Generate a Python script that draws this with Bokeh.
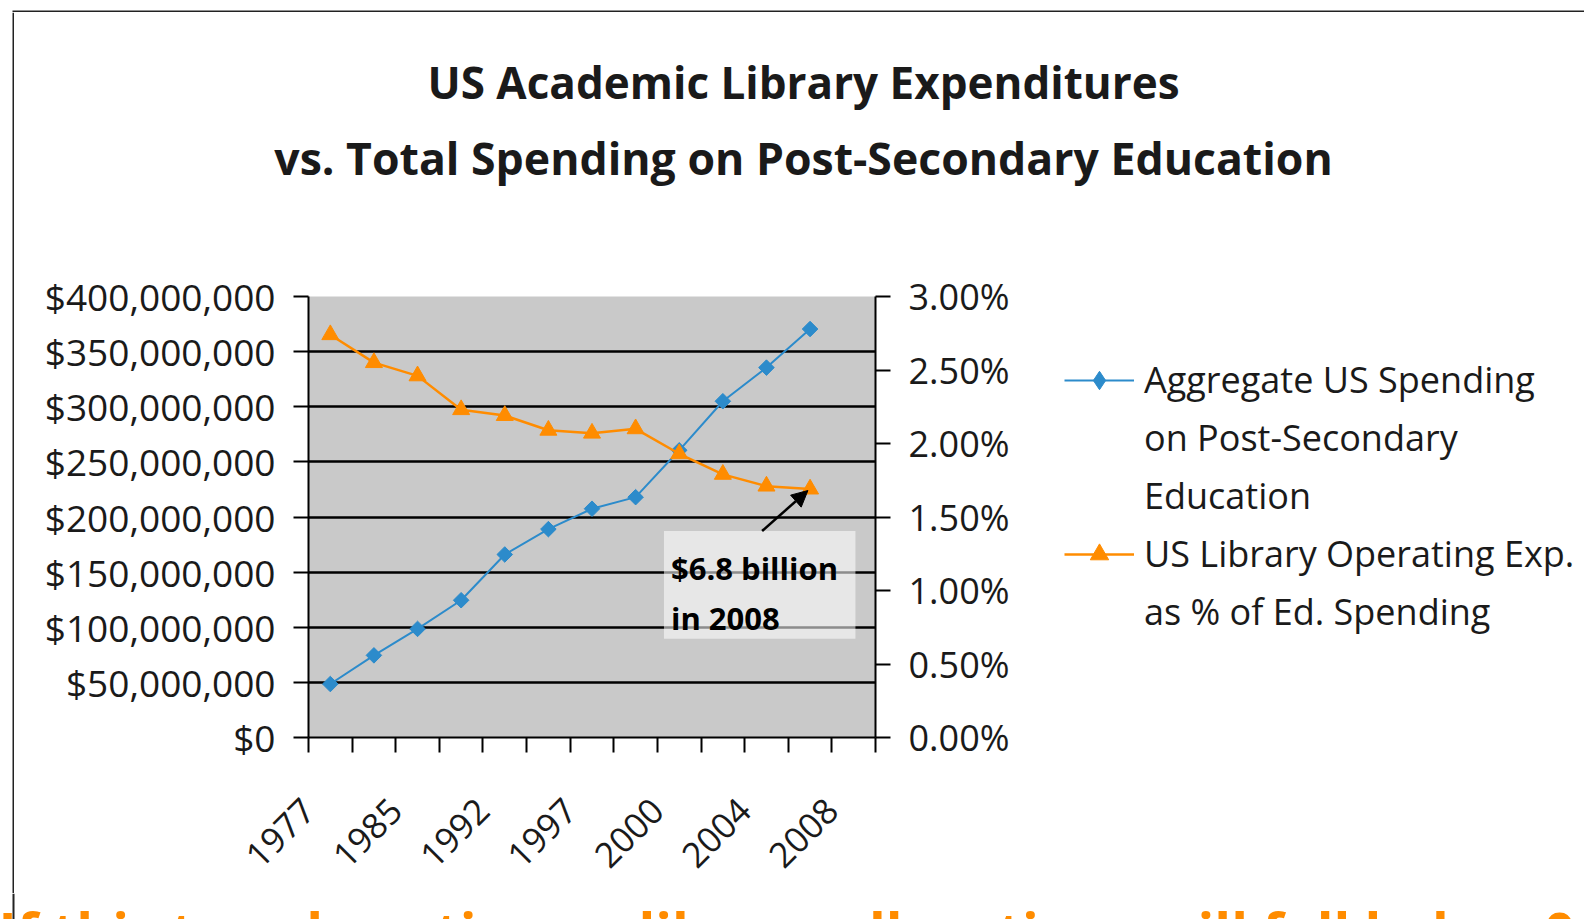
import math
from bokeh.plotting import figure
from bokeh.layouts import column, row
from bokeh.models import (Range1d, LinearAxis, FixedTicker, NumeralTickFormatter,
                          Label, Legend, LegendItem, Arrow, NormalHead, Span,
                          ColumnDataSource)
from bokeh.embed import file_html
from bokeh.resources import INLINE

# ---------------- data ----------------
title_lines = ["US Academic Library Expenditures",
               "vs. Total Spending on Post-Secondary Education"]
tick_labels = ["1977", "1985", "1992", "1997", "2000", "2004", "2008"]
n_slots = 13
point_index = list(range(12))
aggregate_spending = [48.5e6, 74.5e6, 98.5e6, 124.5e6, 166e6, 189e6,
                      207.5e6, 218e6, 260.5e6, 305e6, 335.5e6, 370.5e6]
library_pct = [2.74, 2.55, 2.46, 2.23, 2.19, 2.09,
               2.07, 2.10, 1.93, 1.79, 1.71, 1.69]
legend_blue = ["Aggregate US Spending", "on Post-Secondary", "Education"]
legend_orange = ["US Library Operating Exp.", "as % of Ed. Spending"]
annotation_lines = ["$6.8 billion", "in 2008"]
footer_text = "If this trend continues, library allocations will fall below 0"

BLUE = "#2C8BCB"
ORANGE = "#FF8C00"
GREY = "#C9C9C9"
TXT = "#1a1a1a"
BORDER = "#222222"
FONT = "Open Sans"
NAN = float("nan")


def no_align(f):
    if hasattr(f, "frame_align"):
        f.frame_align = False
    return f


def strip(w, h):
    f = figure(width=w, height=h, output_backend="svg", toolbar_location=None,
               x_range=Range1d(0, w), y_range=Range1d(0, h), min_border=0,
               outline_line_color=None, x_axis_location=None, y_axis_location=None,
               background_fill_color="white", border_fill_color="white")
    f.xgrid.visible = False
    f.ygrid.visible = False
    return no_align(f)


# ---------------- main chart ----------------
MW, MH = 1010, 667
p = figure(width=MW, height=MH, output_backend="svg", toolbar_location=None,
           x_range=Range1d(0, n_slots), y_range=Range1d(0, 400e6),
           min_border_left=294, min_border_right=MW - 861,
           min_border_top=70, min_border_bottom=156,
           background_fill_color=GREY, border_fill_color="white",
           outline_line_color=None, x_axis_location=None, y_axis_location=None)
no_align(p)
p.extra_y_ranges = {"pct": Range1d(0, 0.03)}

src = ColumnDataSource(dict(
    x=[i + 0.5 for i in point_index],
    agg=aggregate_spending,
    pct=[v / 100 for v in library_pct],
))

left_ticker = FixedTicker(ticks=[i * 50e6 for i in range(9)])
yax = LinearAxis(ticker=left_ticker, formatter=NumeralTickFormatter(format="$0,0"))
rax = LinearAxis(y_range_name="pct", ticker=FixedTicker(ticks=[i * 0.005 for i in range(7)]),
                 formatter=NumeralTickFormatter(format="0.00%"))
xax = LinearAxis(ticker=FixedTicker(ticks=[0, 2, 4, 6, 8, 10, 12],
                                    minor_ticks=[1, 3, 5, 7, 9, 11, 13]),
                 major_label_overrides={i * 2: lab for i, lab in enumerate(tick_labels)},
                 major_label_orientation=math.pi / 4)
for ax in (yax, rax, xax):
    ax.axis_line_color = "black"
    ax.axis_line_width = 2
    ax.major_tick_line_color = "black"
    ax.major_tick_line_width = 2
    ax.major_tick_out = 15
    ax.major_tick_in = 0
    ax.major_label_text_font = FONT
    ax.major_label_text_color = TXT
    ax.major_label_standoff = 18
yax.major_label_text_font_size = "37px"
rax.major_label_text_font_size = "36px"
xax.major_label_text_font_size = "35px"
yax.minor_tick_line_color = None
rax.minor_tick_line_color = None
xax.minor_tick_line_color = "black"
xax.minor_tick_line_width = 2
xax.minor_tick_out = 15
xax.minor_tick_in = 0
xax.major_label_standoff = 52
p.add_layout(yax, "left")
p.add_layout(rax, "right")
p.add_layout(xax, "below")

p.ygrid.ticker = left_ticker
p.ygrid.grid_line_color = "black"
p.ygrid.grid_line_width = 2.5
p.xgrid.visible = False

p.quad(left=[8.15], right=[12.54], bottom=[0.00672], top=[0.01405], y_range_name="pct",
       fill_color="white", fill_alpha=0.55, line_color=None)

p.line("x", "agg", source=src, line_color=BLUE, line_width=2)
p.scatter("x", "agg", source=src, marker="square", angle=math.pi / 4, size=11,
          fill_color=BLUE, line_color=BLUE)
p.line("x", "pct", source=src, y_range_name="pct", line_color=ORANGE, line_width=2.5)
p.scatter("x", "pct", source=src, y_range_name="pct", marker="triangle", size=17,
          fill_color=ORANGE, line_color=ORANGE)

p.add_layout(Arrow(end=NormalHead(size=16, fill_color="black", line_color="black"),
                   x_start=10.4, y_start=0.01405, x_end=11.45, y_end=0.0168,
                   y_range_name="pct", line_width=2.5, line_color="black"))
for txt, yv in zip(annotation_lines, [0.01154, 0.00815]):
    p.add_layout(Label(x=8.31, y=yv, y_range_name="pct", text=txt,
                       text_font=FONT, text_font_style="bold", text_font_size="31px",
                       text_color="black", text_baseline="alphabetic"))

# ---------------- title ----------------
tfig = strip(1570, 214)
for txt, yv, fs in zip(title_lines, [145, 69], ["44px", "44.6px"]):
    tfig.add_layout(Label(x=789, y=yv, text=txt, text_font=FONT, text_font_style="bold",
                          text_font_size=fs, text_color=TXT,
                          text_align="center", text_baseline="middle"))

# ---------------- legend ----------------
lfig = strip(560, MH)
lb = lfig.line(x=[NAN, NAN], y=[NAN, NAN], line_color=BLUE, line_width=2)
lbm = lfig.scatter(x=[NAN], y=[NAN], marker="diamond", size=17,
                   fill_color=BLUE, line_color=BLUE)
lo = lfig.line(x=[NAN, NAN], y=[NAN, NAN], line_color=ORANGE, line_width=2.5)
lom = lfig.scatter(x=[NAN], y=[NAN], marker="triangle", size=13,
                   fill_color=ORANGE, line_color=ORANGE)
items = [LegendItem(label=legend_blue[0], renderers=[lb, lbm])]
items += [LegendItem(label=t, renderers=[]) for t in legend_blue[1:]]
items += [LegendItem(label=legend_orange[0], renderers=[lo, lom])]
items += [LegendItem(label=t, renderers=[]) for t in legend_orange[1:]]
lfig.add_layout(Legend(items=items, location=(40, 257), orientation="vertical",
                       border_line_color=None, background_fill_alpha=0, padding=0, margin=0,
                       spacing=9, glyph_width=70, glyph_height=46, label_height=46,
                       label_standoff=10, label_text_font=FONT, label_text_font_size="36px",
                       label_text_color=TXT))

# ---------------- border strips and footer ----------------
top = strip(1584, 12)
top.segment(x0=[12], y0=[1], x1=[1584], y1=[1], line_color=BORDER, line_width=2)

left = strip(14, 881)
left.add_layout(Span(location=13, dimension="height", line_color=BORDER, line_width=2))

foot = strip(1584, 26)
foot.add_layout(Span(location=13, dimension="height", line_color=BORDER, line_width=2))
foot.add_layout(Label(x=-2, y=-12, text=footer_text, text_font=FONT,
                      text_font_style="bold", text_font_size="55px",
                      text_color=ORANGE, text_baseline="alphabetic"))

layout = column(top,
                row(left, column(tfig, row(p, lfig, spacing=0), spacing=0), spacing=0),
                foot, spacing=0)
open("out.html", "w").write(file_html(layout, INLINE))
